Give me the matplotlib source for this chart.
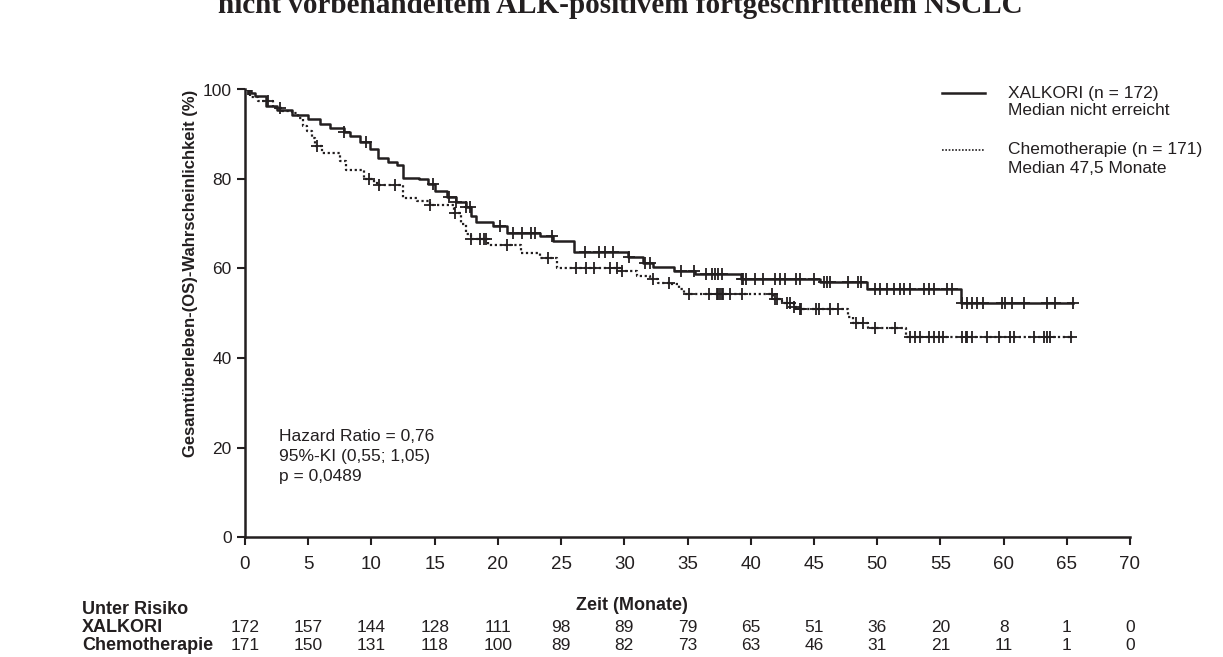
import numpy as np
import matplotlib.pyplot as plt
from matplotlib.lines import Line2D
from matplotlib.transforms import blended_transform_factory

# Kaplan-Meier steps: time (months) and survival (%) after each drop
xal_t = [0, 0.5, 0.8, 1.7, 2.5, 3.7, 5.0, 5.9, 6.7, 7.8, 8.3, 9.1, 9.9, 10.5,
         11.3, 12.0, 12.5, 13.8, 14.5, 15.0, 16.0, 16.7, 17.5, 17.9, 18.3,
         19.6, 20.7, 23.3, 24.4, 26.0, 30.3, 31.5, 32.3, 33.9, 35.6, 39.2,
         45.5, 49.2, 56.6]
xal_s = [100, 99.2, 98.5, 96.3, 95.4, 94.4, 93.3, 92.3, 91.3, 90.4, 89.6,
         88.2, 86.6, 84.8, 83.8, 83.2, 80.3, 79.9, 78.8, 77.3, 75.9, 74.8,
         73.7, 71.7, 70.3, 69.5, 68.0, 67.3, 66.1, 63.7, 62.5, 61.3, 60.3,
         59.5, 58.7, 57.7, 56.9, 55.4, 52.3]
xal_cens = [0.2, 0.4, 7.8, 9.6, 14.9, 16.1, 16.7, 17.5, 17.8, 20.2, 21.2,
            21.9, 22.6, 22.9, 24.3, 26.9, 28.0, 28.5, 29.1, 30.4, 31.6, 32.0,
            34.5, 35.5, 36.5, 36.9, 37.2, 37.4, 37.7, 39.3, 39.4, 39.6, 40.3,
            41.0, 41.9, 42.3, 42.7, 43.6, 43.9, 45.0, 45.8, 46.0, 46.3, 47.7,
            48.5, 48.7, 49.8, 50.2, 50.8, 51.3, 51.8, 52.1, 52.6, 53.7, 54.1,
            54.5, 55.5, 55.9, 56.7, 57.1, 57.5, 57.9, 58.4, 59.9, 60.1, 60.7,
            61.6, 63.4, 64.1, 65.5]

chemo_t = [0, 0.4, 1.0, 2.2, 2.9, 3.7, 4.2, 4.6, 4.9, 5.3, 5.5, 6.1, 7.5,
           8.0, 9.4, 10.2, 10.6, 12.5, 13.6, 14.6, 16.5, 17.1, 17.5, 17.9,
           19.2, 21.8, 23.3, 24.7, 29.7, 31.0, 32.0, 32.7, 33.6, 34.3, 34.7,
           41.8, 42.5, 43.4, 43.9, 47.7, 48.1, 49.3, 52.3]
chemo_s = [100, 98.4, 97.5, 95.9, 95.2, 94.8, 93.7, 91.8, 90.7, 89.2, 87.4,
           85.9, 84.0, 82.1, 79.9, 79.2, 78.6, 75.8, 75.1, 74.2, 72.3, 69.9,
           67.6, 66.5, 65.3, 63.5, 62.4, 60.2, 59.4, 58.3, 57.6, 56.8, 56.5,
           55.4, 54.2, 53.1, 52.4, 51.3, 50.9, 49.1, 47.9, 46.8, 44.7]
chemo_cens = [0.3, 1.8, 2.8, 5.7, 9.8, 10.6, 11.9, 14.6, 16.6, 17.9, 18.6,
              18.9, 19.1, 20.7, 24.0, 26.2, 27.0, 27.6, 28.9, 29.4, 29.8,
              32.3, 33.5, 35.1, 36.7, 37.3, 37.4, 37.6, 37.7, 37.8, 38.4,
              39.3, 41.7, 41.9, 42.1, 42.9, 43.1, 43.4, 43.9, 44.0, 45.2,
              45.4, 46.3, 46.9, 48.3, 48.9, 49.8, 51.4, 52.6, 53.0, 53.4,
              54.1, 54.5, 54.9, 55.2, 56.7, 57.0, 57.1, 57.5, 58.7, 59.6,
              60.5, 60.8, 62.4, 63.2, 63.4, 63.7, 65.3]

risk_times = list(range(0, 75, 5))
xal_risk = [172, 157, 144, 128, 111, 98, 89, 79, 65, 51, 36, 20, 8, 1, 0]
chemo_risk = [171, 150, 131, 118, 100, 89, 82, 73, 63, 46, 31, 21, 11, 1, 0]

ink = '#231f20'
sans = ['Liberation Sans', 'DejaVu Sans']
narrow = ['Liberation Sans Narrow', 'Liberation Sans', 'DejaVu Sans']
plt.rcParams['font.family'] = sans


def km_curve(ax, t, s, cens, end, **kw):
    t = np.array(t + [end])
    s = np.array(s + [s[-1]])
    line, = ax.step(t, s, where='post', color=ink, **kw)
    idx = np.searchsorted(t, cens, side='right') - 1
    ax.plot(cens, s[idx], '+', color=ink, ms=8, mew=1.3)
    return line


W, H = 1223, 657
fig = plt.figure(figsize=(W / 100, H / 100), dpi=100)
ax = fig.add_axes([245 / W, 1 - 537 / H, 885 / W, 447.5 / H])

km_curve(ax, xal_t, xal_s, xal_cens, 65.5, lw=1.8)
km_curve(ax, chemo_t, chemo_s, chemo_cens, 65.5, lw=1.6,
         linestyle=(0, (1, 1.2)))

ax.set_xlim(0, 70)
ax.set_ylim(0, 100)
ax.set_xticks(risk_times)
ax.set_yticks(range(0, 101, 20))
for side in ['top', 'right']:
    ax.spines[side].set_visible(False)
for side in ['left', 'bottom']:
    ax.spines[side].set_linewidth(1.8)
    ax.spines[side].set_color(ink)
ax.tick_params(direction='out', length=6, width=1.5, color=ink,
               labelsize=12.5, labelcolor=ink)
ax.tick_params(axis='x', pad=8)
for lab in ax.get_xticklabels():
    lab.set_family(narrow)
    lab.set_fontsize(13.5)

ax.set_ylabel('Gesamtüberleben-(OS)-Wahrscheinlichkeit (%)',
              fontsize=12, fontweight='bold', color=ink)
ax.yaxis.set_label_coords(-47 / 885, 0.59)

ax.text(2.7, 18, 'Hazard Ratio = 0,76\n95%-KI (0,55; 1,05)\np = 0,0489',
        fontsize=12.5, color=ink, va='center', linespacing=1.45)

# legend
fig.add_artist(Line2D([942 / W, 985 / W], [1 - 93 / H] * 2, color=ink, lw=1.8))
fig.add_artist(Line2D([942 / W, 985 / W], [1 - 150 / H] * 2, color=ink, lw=1.2,
                      linestyle=(0, (1, 1))))
fig.text(1008 / W, 1 - 86 / H, 'XALKORI (n = 172)\nMedian nicht erreicht',
         fontsize=12.5, color=ink, va='top', linespacing=1.2)
fig.text(1008 / W, 1 - 142 / H, 'Chemotherapie (n = 171)\nMedian 47,5 Monate',
         fontsize=12.5, color=ink, va='top', linespacing=1.3)

# title (cut at the top edge)
fig.text(0.507, 1 - 13 / H,
         'nicht vorbehandeltem ALK-positivem fortgeschrittenem NSCLC',
         family=['Liberation Serif', 'DejaVu Serif'], fontweight='bold',
         fontsize=21, ha='center', va='baseline', color=ink)

# risk table
tr = blended_transform_factory(ax.transData, fig.transFigure)
fig.text(632 / W, 1 - 605 / H, 'Zeit (Monate)', family=narrow,
         fontweight='bold', fontsize=13, ha='center', va='center', color=ink)
fig.text(82 / W, 1 - 610 / H, 'Unter Risiko', family=narrow,
         fontweight='bold', fontsize=13, va='center', color=ink)
fig.text(82 / W, 1 - 628 / H, 'XALKORI', family=narrow,
         fontweight='bold', fontsize=13, va='center', color=ink)
fig.text(82 / W, 1 - 646 / H, 'Chemotherapie', family=narrow,
         fontweight='bold', fontsize=13, va='center', color=ink)
for x, a, b in zip(risk_times, xal_risk, chemo_risk):
    ax.text(x, 1 - 628 / H, str(a), transform=tr, family=narrow,
            fontsize=12.5, ha='center', va='center', color=ink)
    ax.text(x, 1 - 646 / H, str(b), transform=tr, family=narrow,
            fontsize=12.5, ha='center', va='center', color=ink)

fig.savefig('out.png', dpi=100)
